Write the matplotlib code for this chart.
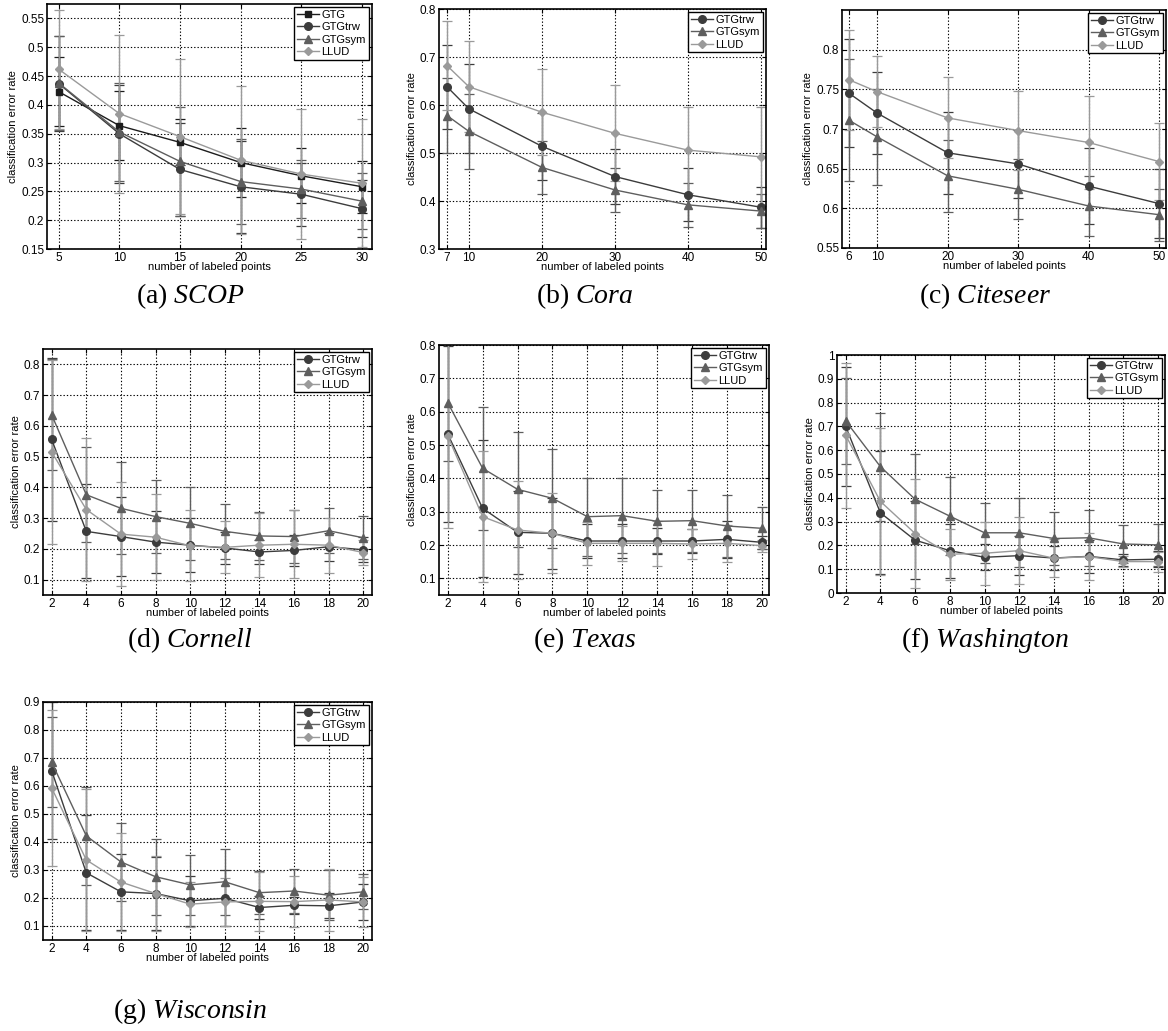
import matplotlib
matplotlib.use("Agg")
import matplotlib.pyplot as plt
from matplotlib.ticker import FixedLocator, FuncFormatter

plt.rcParams['font.family'] = ['Liberation Sans', 'DejaVu Sans']
plt.rcParams['mathtext.fontset'] = 'custom'
plt.rcParams['mathtext.rm'] = 'Liberation Serif'
plt.rcParams['mathtext.it'] = 'Liberation Serif:italic'

# ---------------- data ----------------
methods4 = ["GTG", "GTGtrw", "GTGsym", "LLUD"]
methods3 = ["GTGtrw", "GTGsym", "LLUD"]

# (a) SCOP
scop_x = [5, 10, 15, 20, 25, 30]
scop_gtg = [0.423, 0.364, 0.335, 0.300, 0.277, 0.258]
scop_gtg_err = [0.060, 0.060, 0.040, 0.060, 0.048, 0.045]
scop_trw = [0.437, 0.350, 0.288, 0.258, 0.245, 0.220]
scop_trw_err = [0.083, 0.085, 0.080, 0.080, 0.055, 0.050]
scop_sym = [0.438, 0.353, 0.302, 0.267, 0.254, 0.233]
scop_sym_err = [0.082, 0.085, 0.095, 0.073, 0.050, 0.048]
scop_llud = [0.462, 0.385, 0.345, 0.304, 0.280, 0.264]
scop_llud_err = [0.103, 0.137, 0.135, 0.128, 0.112, 0.111]

# (b) Cora
cora_x = [7, 10, 20, 30, 40, 50]
cora_trw = [0.638, 0.592, 0.514, 0.451, 0.413, 0.387]
cora_trw_err = [0.087, 0.093, 0.070, 0.057, 0.055, 0.043]
cora_sym = [0.578, 0.545, 0.470, 0.423, 0.392, 0.379]
cora_sym_err = [0.078, 0.078, 0.055, 0.045, 0.046, 0.036]
cora_llud = [0.682, 0.638, 0.585, 0.541, 0.506, 0.492]
cora_llud_err = [0.093, 0.095, 0.090, 0.100, 0.089, 0.103]

# (c) Citeseer
cite_x = [6, 10, 20, 30, 40, 50]
cite_trw = [0.745, 0.720, 0.670, 0.656, 0.628, 0.606]
cite_trw_err = [0.068, 0.052, 0.052, 0.043, 0.048, 0.044]
cite_sym = [0.711, 0.690, 0.641, 0.624, 0.603, 0.592]
cite_sym_err = [0.077, 0.061, 0.045, 0.038, 0.038, 0.033]
cite_llud = [0.762, 0.747, 0.714, 0.698, 0.683, 0.659]
cite_llud_err = [0.063, 0.045, 0.051, 0.050, 0.058, 0.049]

# (d)-(g) WebKB
web_x = [2, 4, 6, 8, 10, 12, 14, 16, 18, 20]

corn_trw = [0.556, 0.257, 0.240, 0.222, 0.212, 0.203, 0.190, 0.195, 0.207, 0.197]
corn_trw_err = [0.265, 0.153, 0.128, 0.100, 0.087, 0.053, 0.040, 0.050, 0.045, 0.040]
corn_sym = [0.636, 0.376, 0.332, 0.305, 0.283, 0.257, 0.242, 0.240, 0.259, 0.236]
corn_sym_err = [0.180, 0.155, 0.150, 0.120, 0.118, 0.090, 0.077, 0.085, 0.074, 0.070]
corn_llud = [0.515, 0.328, 0.248, 0.238, 0.210, 0.205, 0.212, 0.215, 0.212, 0.188]
corn_llud_err = [0.300, 0.234, 0.170, 0.140, 0.115, 0.085, 0.105, 0.110, 0.090, 0.040]

tex_trw = [0.533, 0.310, 0.238, 0.235, 0.212, 0.212, 0.212, 0.212, 0.217, 0.208]
tex_trw_err = [0.263, 0.205, 0.125, 0.107, 0.050, 0.050, 0.040, 0.037, 0.055, 0.020]
tex_sym = [0.627, 0.430, 0.367, 0.340, 0.285, 0.288, 0.271, 0.273, 0.257, 0.250]
tex_sym_err = [0.175, 0.185, 0.173, 0.148, 0.117, 0.113, 0.095, 0.093, 0.092, 0.063]
tex_llud = [0.527, 0.285, 0.245, 0.235, 0.205, 0.205, 0.205, 0.203, 0.205, 0.198]
tex_llud_err = [0.275, 0.197, 0.147, 0.120, 0.065, 0.052, 0.067, 0.045, 0.055, 0.018]

wash_trw = [0.700, 0.337, 0.222, 0.178, 0.150, 0.157, 0.147, 0.154, 0.139, 0.142]
wash_trw_err = [0.250, 0.258, 0.165, 0.113, 0.055, 0.083, 0.050, 0.070, 0.025, 0.033]
wash_sym = [0.723, 0.531, 0.394, 0.323, 0.253, 0.253, 0.229, 0.232, 0.206, 0.202]
wash_sym_err = [0.180, 0.227, 0.190, 0.165, 0.127, 0.145, 0.112, 0.118, 0.080, 0.087]
wash_llud = [0.663, 0.385, 0.250, 0.163, 0.167, 0.178, 0.146, 0.153, 0.132, 0.132]
wash_llud_err = [0.305, 0.310, 0.230, 0.108, 0.132, 0.140, 0.080, 0.100, 0.022, 0.042]

wisc_trw = [0.655, 0.290, 0.222, 0.216, 0.190, 0.199, 0.166, 0.174, 0.172, 0.186]
wisc_trw_err = [0.245, 0.205, 0.135, 0.130, 0.090, 0.100, 0.040, 0.030, 0.045, 0.065]
wisc_sym = [0.685, 0.422, 0.329, 0.276, 0.247, 0.258, 0.219, 0.225, 0.210, 0.222]
wisc_sym_err = [0.160, 0.175, 0.138, 0.135, 0.108, 0.118, 0.077, 0.080, 0.090, 0.063]
wisc_llud = [0.593, 0.336, 0.257, 0.216, 0.178, 0.186, 0.188, 0.187, 0.193, 0.186]
wisc_llud_err = [0.280, 0.255, 0.175, 0.135, 0.080, 0.085, 0.105, 0.090, 0.110, 0.088]

captions = [("(a) ", "SCOP"), ("(b) ", "Cora"), ("(c) ", "Citeseer"),
            ("(d) ", "Cornell"), ("(e) ", "Texas"), ("(f) ", "Washington"),
            ("(g) ", "Wisconsin")]

# ---------------- styles ----------------
style = {
    "GTG": dict(color="#1c1c1c", marker="s"),
    "GTGtrw": dict(color="#3c3c3c", marker="o"),
    "GTGsym": dict(color="#5e5e5e", marker="^"),
    "LLUD": dict(color="#9a9a9a", marker="D"),
}
ms = {"s": 5.0, "o": 5.5, "^": 5.5, "D": 4.5}

W, H = 1168, 1031
fig = plt.figure(figsize=(W / 100, H / 100), dpi=100)


def box(l, t, r, b):
    return [l / W, 1 - b / H, (r - l) / W, (b - t) / H]


def fmt(v, pos):
    s = f"{v:.2f}".rstrip("0").rstrip(".")
    return s


def panel(rect, x, series, names, xlim, ylim, xticks, yticks):
    ax = fig.add_axes(rect)
    handles = []
    for name, (mean, err) in zip(names, series):
        st = style[name]
        c = ax.errorbar(x, mean, yerr=err, color=st["color"], marker=st["marker"],
                        ms=ms[st["marker"]], lw=1.0, elinewidth=1.0, capsize=3.5,
                        capthick=0.9, mec=st["color"], mfc=st["color"])
        handles.append(c[0])
    ax.set_xlim(*xlim)
    ax.set_ylim(*ylim)
    ax.xaxis.set_major_locator(FixedLocator(xticks))
    ax.yaxis.set_major_locator(FixedLocator(yticks))
    ax.yaxis.set_major_formatter(FuncFormatter(fmt))
    ax.xaxis.set_major_formatter(FuncFormatter(fmt))
    ax.grid(True, color="black", linestyle=(0, (1.2, 1.8)), linewidth=0.8)
    ax.tick_params(direction="in", length=3, width=0.8, labelsize=8.5,
                   top=True, right=True, pad=2)
    for sp in ax.spines.values():
        sp.set_linewidth(1.2)
    ax.set_xlabel("number of labeled points", fontsize=8, labelpad=-1)
    ax.set_ylabel("classification error rate", fontsize=8, labelpad=2)
    leg = ax.legend(handles, names, loc="upper right", fontsize=8,
                    fancybox=False, framealpha=1, edgecolor="black",
                    borderaxespad=0.3, borderpad=0.25, labelspacing=0.2,
                    handlelength=2.0, handletextpad=0.2)
    leg.get_frame().set_linewidth(1.0)
    return ax


panel(box(47, 4, 372, 249), scop_x,
      [(scop_gtg, scop_gtg_err), (scop_trw, scop_trw_err),
       (scop_sym, scop_sym_err), (scop_llud, scop_llud_err)], methods4,
      (4.04, 30.83), (0.15, 0.575), scop_x,
      [0.15, 0.2, 0.25, 0.3, 0.35, 0.4, 0.45, 0.5, 0.55])

panel(box(439, 9, 766, 249), cora_x,
      [(cora_trw, cora_trw_err), (cora_sym, cora_sym_err),
       (cora_llud, cora_llud_err)], methods3,
      (5.9, 50.7), (0.3, 0.8), cora_x, [0.3, 0.4, 0.5, 0.6, 0.7, 0.8])

panel(box(842, 10, 1166, 248), cite_x,
      [(cite_trw, cite_trw_err), (cite_sym, cite_sym_err),
       (cite_llud, cite_llud_err)], methods3,
      (5.0, 51.0), (0.55, 0.85), cite_x, [0.55, 0.6, 0.65, 0.7, 0.75, 0.8])

panel(box(43, 349, 372, 595), web_x,
      [(corn_trw, corn_trw_err), (corn_sym, corn_sym_err),
       (corn_llud, corn_llud_err)], methods3,
      (1.5, 20.5), (0.05, 0.85), web_x,
      [0.1, 0.2, 0.3, 0.4, 0.5, 0.6, 0.7, 0.8])

panel(box(439, 345, 769, 595), web_x,
      [(tex_trw, tex_trw_err), (tex_sym, tex_sym_err),
       (tex_llud, tex_llud_err)], methods3,
      (1.5, 20.4), (0.05, 0.8), web_x,
      [0.1, 0.2, 0.3, 0.4, 0.5, 0.6, 0.7, 0.8])

panel(box(837, 355, 1165, 593), web_x,
      [(wash_trw, wash_trw_err), (wash_sym, wash_sym_err),
       (wash_llud, wash_llud_err)], methods3,
      (1.5, 20.4), (0.0, 1.0), web_x,
      [0, 0.1, 0.2, 0.3, 0.4, 0.5, 0.6, 0.7, 0.8, 0.9, 1.0])

panel(box(43, 702, 372, 940), web_x,
      [(wisc_trw, wisc_trw_err), (wisc_sym, wisc_sym_err),
       (wisc_llud, wisc_llud_err)], methods3,
      (1.5, 20.5), (0.05, 0.9), web_x,
      [0.1, 0.2, 0.3, 0.4, 0.5, 0.6, 0.7, 0.8, 0.9])

cap_pos = [(190, 296), (585, 296), (985, 296),
           (190, 640), (585, 640), (985, 640), (190, 1011)]
for (pre, name), (cx, cy) in zip(captions, cap_pos):
    fig.text(cx / W, 1 - cy / H, pre + r"$\mathit{" + name + "}$",
             ha="center", va="center", fontsize=20, family="Liberation Serif")

fig.savefig("out.png", dpi=100)
